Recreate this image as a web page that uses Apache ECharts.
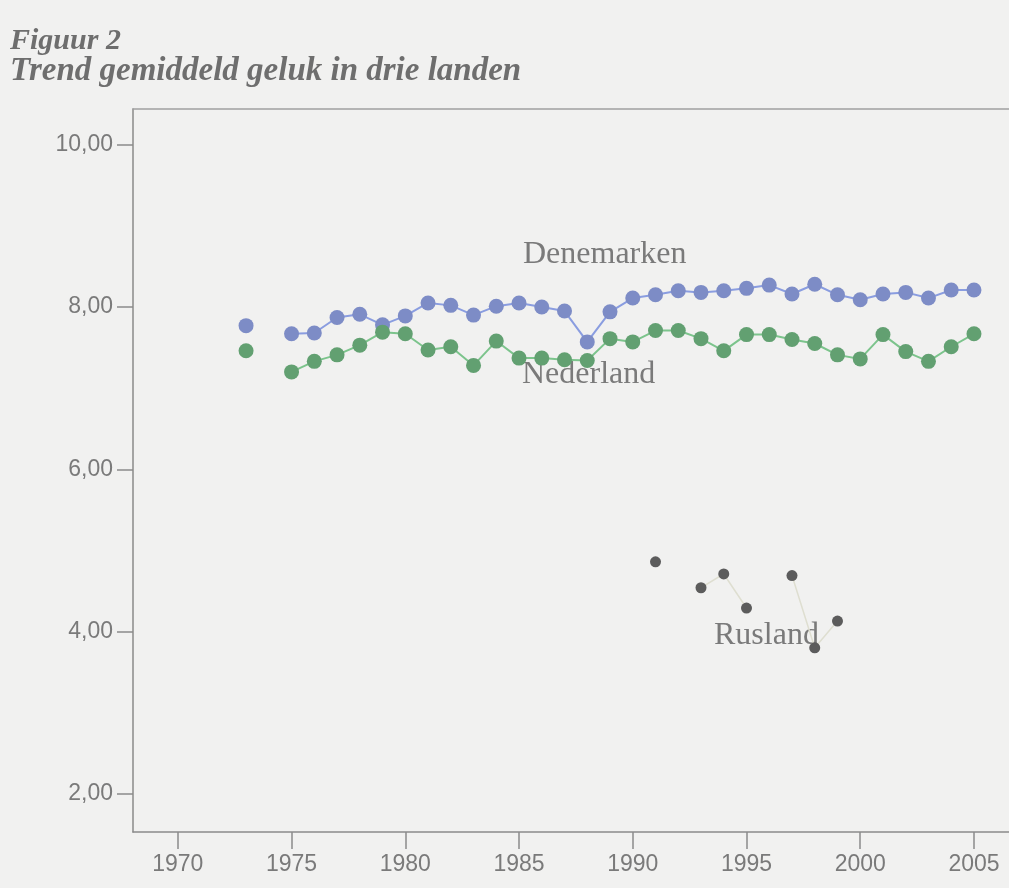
<!DOCTYPE html>
<html>
<head>
<meta charset="utf-8">
<script src="https://cdn.jsdelivr.net/npm/echarts@6/dist/echarts.min.js"></script>
<style>
html,body{margin:0;padding:0;background:#f1f1f0;}
#c{width:1009px;height:888px;}
</style>
</head>
<body>
<div id="c"></div>
<script>
const years = [1973,1974,1975,1976,1977,1978,1979,1980,1981,1982,1983,1984,1985,1986,1987,1988,1989,1990,1991,1992,1993,1994,1995,1996,1997,1998,1999,2000,2001,2002,2003,2004,2005];
const denemarken = [7.77,null,7.67,7.68,7.87,7.91,7.78,7.89,8.05,8.02,7.90,8.01,8.05,8.00,7.95,7.57,7.94,8.11,8.15,8.20,8.18,8.20,8.23,8.27,8.16,8.28,8.15,8.09,8.16,8.18,8.11,8.21,8.21];
const nederland = [7.46,null,7.20,7.33,7.41,7.53,7.69,7.67,7.47,7.51,7.28,7.58,7.37,7.37,7.35,7.34,7.61,7.57,7.71,7.71,7.61,7.46,7.66,7.66,7.60,7.55,7.41,7.36,7.66,7.45,7.33,7.51,7.67];
const ruslandYears = [1991,1992,1993,1994,1995,1996,1997,1998,1999];
const rusland = [4.86,null,4.54,4.71,4.29,null,4.69,3.80,4.13];
const xTicks = [1970,1975,1980,1985,1990,1995,2000,2005];
const yTicks = [2,4,6,8,10];

const pair = (xs, ys) => xs.map((x,i) => [x, ys[i]]);

const chart = echarts.init(document.getElementById('c'), null, {renderer:'canvas'});
const axisGray = '#8a8a8a';
const labelGray = '#7a7a7a';
const tickFont = '"Liberation Sans Narrow", "Arial Narrow", "Liberation Sans"';
chart.setOption({
  backgroundColor: '#f1f1f0',
  animation: false,
  title: [
    {text: 'Figuur 2', left: 5, top: 21, textStyle: {fontFamily: 'Liberation Serif', fontStyle: 'italic', fontWeight: 'bold', fontSize: 30, color: '#6e6e6e'}},
    {text: 'Trend gemiddeld geluk in drie landen', left: 5, top: 50, textStyle: {fontFamily: 'Liberation Serif', fontStyle: 'italic', fontWeight: 'bold', fontSize: 33, color: '#6e6e6e'}}
  ],
  grid: {left: 133, right: 0, top: 109, bottom: 56},
  xAxis: [{
    type: 'value', min: 1968.03, max: 2006.54,
    splitLine: {show: false},
    axisLine: {show: true, lineStyle: {color: axisGray, width: 1.5}},
    axisTick: {show: true, length: 17, lineStyle: {color: axisGray, width: 1.5}, customValues: xTicks},
    axisLabel: {customValues: xTicks, margin: 21, color: labelGray, fontFamily: tickFont, fontSize: 23,
      formatter: v => String(v)}
  },{
    type: 'value', position: 'top', min: 1968.03, max: 2006.54,
    splitLine: {show: false},
    axisLine: {show: true, lineStyle: {color: '#a0a0a0', width: 1.5}},
    axisTick: {show: false}, axisLabel: {show: false}
  }],
  yAxis: {
    type: 'value', min: 1.53, max: 10.44,
    splitLine: {show: false},
    axisLine: {show: true, lineStyle: {color: axisGray, width: 1.5}},
    axisTick: {show: true, length: 16, lineStyle: {color: axisGray, width: 1.5}, customValues: yTicks},
    axisLabel: {customValues: yTicks, margin: 20, color: labelGray, fontFamily: tickFont, fontSize: 23,
      formatter: v => v.toFixed(2).replace('.', ',')}
  },
  series: [
    {name: 'Denemarken', type: 'line', data: pair(years, denemarken), connectNulls: false,
      symbol: 'circle', symbolSize: 15, showAllSymbol: true,
      lineStyle: {color: '#8a9de0', width: 2},
      itemStyle: {color: '#7d8cc6'}},
    {name: 'Nederland', type: 'line', data: pair(years, nederland), connectNulls: false,
      symbol: 'circle', symbolSize: 15, showAllSymbol: true,
      lineStyle: {color: '#7cc48c', width: 2},
      itemStyle: {color: '#62a071'}},
    {name: 'Rusland', type: 'line', data: pair(ruslandYears, rusland), connectNulls: false,
      symbol: 'circle', symbolSize: 11, showAllSymbol: true,
      lineStyle: {color: '#deded0', width: 1.5},
      itemStyle: {color: '#5c5c5c'}}
  ],
  graphic: [
    {type: 'text', left: 523, top: 239, style: {text: 'Denemarken', font: '32px "Liberation Serif"', fill: '#7a7a7a'}},
    {type: 'text', left: 522, top: 359, style: {text: 'Nederland', font: '32px "Liberation Serif"', fill: '#7a7a7a'}},
    {type: 'text', left: 714, top: 620, style: {text: 'Rusland', font: '32px "Liberation Serif"', fill: '#7a7a7a'}}
  ]
});
</script>
</body>
</html>
